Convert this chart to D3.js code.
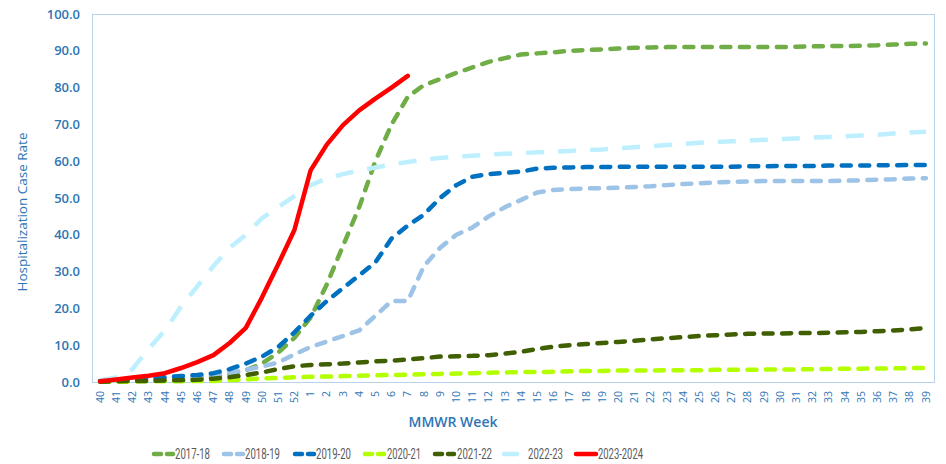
<!DOCTYPE html>
<html>
<head>
<meta charset="utf-8">
<script src="https://cdn.jsdelivr.net/npm/d3@7"></script>
<style>
  html, body { margin: 0; padding: 0; background: #fff; }
  svg { display: block; }
</style>
</head>
<body>
<svg id="chart" width="946" height="464"></svg>
<script>
const weeks = ["40","41","42","43","44","45","46","47","48","49","50","51","52",
  "1","2","3","4","5","6","7","8","9","10","11","12","13","14","15","16","17","18","19","20",
  "21","22","23","24","25","26","27","28","29","30","31","32","33","34","35","36","37","38","39"];

const yTicks = [0,10,20,30,40,50,60,70,80,90,100];

const s2017 = [0.2,0.3,0.4,0.5,0.7,0.9,1.1,1.5,2.2,3.2,5.0,8.0,12.0,
  17.5,26.5,37.0,47.5,60.0,70.0,77.5,80.7,82.3,84.0,85.5,87.0,88.0,89.0,89.3,89.6,90.0,90.2,90.4,90.6,
  90.8,90.9,91.0,91.0,91.0,91.0,91.0,91.0,91.0,91.0,91.1,91.2,91.3,91.3,91.4,91.5,91.7,91.9,92.0];

const s2018 = [0.2,0.3,0.5,0.7,0.9,1.1,1.4,2.0,2.5,3.3,4.2,5.3,7.5,
  9.5,11.0,12.5,14.0,18.0,22.0,22.0,31.5,36.5,40.0,42.0,45.0,47.5,49.5,51.5,52.2,52.4,52.6,52.7,52.8,
  53.0,53.2,53.5,53.8,54.0,54.2,54.4,54.5,54.6,54.6,54.6,54.6,54.6,54.7,54.8,55.0,55.1,55.3,55.4];

const s2019 = [0.3,0.5,0.7,1.0,1.3,1.6,1.9,2.4,3.5,5.0,6.9,9.5,13.5,
  18.0,22.0,25.5,29.0,32.5,39.0,42.5,45.5,50.0,53.5,55.8,56.5,56.8,57.2,58.0,58.2,58.3,58.4,58.4,58.5,
  58.5,58.5,58.5,58.5,58.5,58.5,58.5,58.6,58.6,58.7,58.7,58.7,58.8,58.8,58.8,58.9,58.9,59.0,59.0];

const s2020 = [0.1,0.1,0.1,0.2,0.2,0.2,0.3,0.3,0.5,0.7,1.0,1.1,1.3,
  1.4,1.5,1.6,1.7,1.8,1.9,2.0,2.1,2.2,2.3,2.4,2.5,2.6,2.7,2.7,2.8,2.9,3.0,3.0,3.1,
  3.1,3.1,3.2,3.2,3.2,3.3,3.3,3.3,3.4,3.4,3.4,3.5,3.5,3.6,3.6,3.7,3.7,3.8,3.8];

const s2021 = [0.1,0.2,0.3,0.3,0.4,0.5,0.6,0.9,1.3,1.9,2.6,3.5,4.3,
  4.6,4.8,5.0,5.3,5.6,5.8,6.1,6.5,6.9,7.0,7.1,7.3,7.7,8.2,9.0,9.6,10.0,10.3,10.6,10.9,
  11.2,11.6,11.9,12.2,12.5,12.7,12.9,13.1,13.2,13.2,13.3,13.3,13.4,13.5,13.6,13.8,14.0,14.3,14.7];

const s2022 = [0.5,1.2,3.5,9.0,14.0,20.5,26.0,31.5,36.5,40.0,44.5,47.5,50.5,
  53.5,55.3,56.5,57.5,58.3,59.1,59.8,60.4,60.9,61.2,61.5,61.8,62.0,62.2,62.4,62.6,62.8,63.0,63.2,63.5,
  63.8,64.1,64.4,64.7,65.0,65.2,65.4,65.6,65.8,66.0,66.2,66.4,66.6,66.8,67.0,67.2,67.5,67.8,68.0];

const s2023 = [0.2,0.7,1.2,1.7,2.4,3.8,5.4,7.3,10.6,14.7,23.0,32.0,41.3,
  57.5,64.5,69.8,73.8,77.0,80.0,83.2];

const seriesNames = ["2017-18","2018-19","2019-20","2020-21","2021-22","2022-23","2023-2024"];
const seriesValues = [s2017, s2018, s2019, s2020, s2021, s2022, s2023];
const seriesColors = ["#70ad47","#9dc3e6","#0070c0","#b3ff00","#3f5f00","#bdefff","#ff0000"];
const seriesStyle = ["dash","dash","dash","dash","dash","long","solid"];

const svg = d3.select("#chart");
const margin = {left: 92, right: 12, top: 14, bottom: 82};
const W = 946, H = 464;
const pw = W - margin.left - margin.right;
const ph = H - margin.top - margin.bottom;

const x = d3.scaleBand().domain(weeks).range([margin.left, margin.left + pw]);
const y = d3.scaleLinear().domain([0, 100]).range([margin.top + ph, margin.top]);

const axisBlue = "#2e75b6";
const fontMain = "'Open Sans', 'Noto Sans', sans-serif";

// plot frame (dotted)
svg.append("rect")
  .attr("x", margin.left + 0.5).attr("y", margin.top + 0.5)
  .attr("width", pw).attr("height", ph)
  .attr("fill", "none").attr("stroke", "#6fa6d6").attr("stroke-width", 1)
  .attr("stroke-dasharray", "1,1");

// y axis
const yAxis = d3.axisLeft(y).tickValues(yTicks).tickFormat(d3.format(".1f")).tickSize(0).tickPadding(12);
const gy = svg.append("g").attr("transform", `translate(${margin.left},0)`).call(yAxis);
gy.select(".domain").remove();
gy.selectAll("text")
  .attr("fill", axisBlue).style("font-family", fontMain)
  .style("font-size", "13px").style("font-weight", 600);

// x axis
const xAxis = d3.axisBottom(x).tickSize(0);
const gx = svg.append("g").attr("transform", `translate(0,${margin.top + ph})`).call(xAxis);
gx.select(".domain").remove();
gx.selectAll("text")
  .attr("fill", axisBlue).style("font-family", fontMain)
  .style("font-size", "10.5px")
  .attr("transform", "rotate(-90)")
  .attr("text-anchor", "end")
  .attr("x", -9).attr("y", 0).attr("dy", "0.35em");

// axis titles
svg.append("text")
  .attr("x", 453).attr("y", 427)
  .attr("text-anchor", "middle")
  .attr("fill", axisBlue).style("font-family", fontMain)
  .style("font-size", "14px").style("font-weight", 600)
  .text("MMWR Week");

svg.append("text")
  .attr("transform", "translate(27,212) rotate(-90)")
  .attr("text-anchor", "middle")
  .attr("fill", axisBlue).style("font-family", fontMain)
  .style("font-size", "13.5px").style("font-weight", 500)
  .text("Hospitalization Case Rate");

// lines
const line = d3.line()
  .x((d, i) => x(weeks[i]) + x.bandwidth() / 2)
  .y(d => y(d))
  .curve(d3.curveLinear);

const gLines = svg.append("g");
seriesValues.forEach((vals, k) => {
  const p = gLines.append("path")
    .datum(vals)
    .attr("d", line)
    .attr("fill", "none")
    .attr("stroke", seriesColors[k])
    .attr("stroke-width", 4.5)
    .attr("stroke-linejoin", "round")
    .attr("stroke-linecap", seriesStyle[k] === "long" ? "butt" : "round");
  if (seriesStyle[k] === "dash") p.attr("stroke-dasharray", "9,9.5");
  if (seriesStyle[k] === "long") p.attr("stroke-dasharray", "18,14");
});

// legend
const legendX = [152, 222, 293, 363, 433, 503, 575];
const legendTextX = [175, 245, 316, 387, 457, 528, 598];
const legendTextW = [35, 35, 35, 34, 35, 35, 45];
const lg = svg.append("g");
seriesNames.forEach((name, k) => {
  const ly = 454;
  const st = seriesStyle[k];
  const segs = st === "dash" ? [[2, 9], [15, 21]] : st === "long" ? [[1, 14]] : [[1, 21]];
  segs.forEach(s => {
    lg.append("line").attr("x1", legendX[k] + s[0]).attr("x2", legendX[k] + s[1])
      .attr("y1", ly).attr("y2", ly)
      .attr("stroke", seriesColors[k]).attr("stroke-width", 4.5).attr("stroke-linecap", "round");
  });
  lg.append("text")
    .attr("x", legendTextX[k]).attr("y", ly).attr("dy", "0.36em")
    .attr("fill", "#595959")
    .style("font-family", "'Liberation Sans Narrow', 'Roboto', sans-serif")
    .style("font-size", "14.5px")
    .attr("textLength", legendTextW[k]).attr("lengthAdjust", "spacingAndGlyphs")
    .text(name);
});
</script>
</body>
</html>
